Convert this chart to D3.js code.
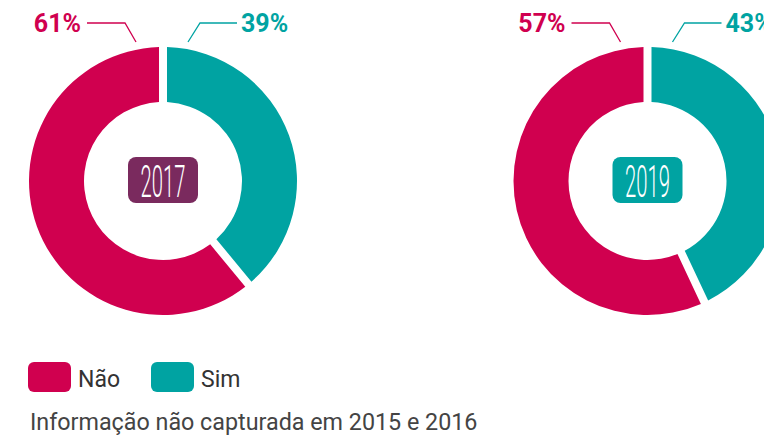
<!DOCTYPE html>
<html>
<head>
<meta charset="utf-8">
<script src="https://cdn.jsdelivr.net/npm/d3@7"></script>
<style>
  body { margin: 0; background: #fff; }
  text { font-family: Roboto, "Noto Sans", sans-serif; }
</style>
</head>
<body>
<script>
(function(){
    var width = 764,
        height = 437;

    // dados
    var categories = ["Não", "Sim"];
    var years = ["2017", "2019"];
    var values2017 = [61, 39];
    var values2019 = [57, 43];
    var colors = ["#d0004f", "#00a3a2"];
    var yearColors = ["#7a2a5e", "#00a3a2"];
    var note = "Informação não capturada em 2015 e 2016";

    var series = [values2017, values2019];
    var centersX = [163, 647.5],
        centerY = 181,
        outerR = 134,
        innerR = 79;

    var svg = d3.select("body").append("svg")
                .attr("width", width)
                .attr("height", height);

    var color = d3.scaleOrdinal().domain(categories).range(colors);

    // pie anti-horário a partir do topo: Não à esquerda, Sim à direita
    var pie = d3.pie()
                .sort(null)
                .startAngle(0)
                .endAngle(-2 * Math.PI)
                .value(function(d){ return d.v; });

    var arc = d3.arc()
                .innerRadius(innerR)
                .outerRadius(outerR)
                .padAngle(8 / outerR)
                .padRadius(outerR);

    series.forEach(function(vals, i){
        var g = svg.append("g")
                   .attr("transform", "translate(" + centersX[i] + "," + centerY + ")");

        var data = categories.map(function(c, j){ return {k: c, v: vals[j]}; });

        g.selectAll("path")
         .data(pie(data))
         .enter().append("path")
         .attr("d", arc)
         .attr("fill", function(d){ return color(d.data.k); });

        // caixa do ano
        g.append("rect")
         .attr("x", -35).attr("y", -24)
         .attr("width", 70).attr("height", 46)
         .attr("rx", 8)
         .attr("fill", yearColors[i]);

        g.append("text")
         .attr("transform", "translate(0,16) scale(0.46,1)")
         .attr("text-anchor", "middle")
         .attr("font-size", 44)
         .attr("font-weight", 300)
         .attr("fill", "#fff")
         .text(years[i]);

        // rótulos de percentual
        var cx = centersX[i];
        svg.append("path")
           .attr("d", "M" + (cx - 76) + ",23 L" + (cx - 38) + ",23 L" + (cx - 27) + ",42")
           .attr("fill", "none")
           .attr("stroke", colors[0])
           .attr("stroke-width", 1.3);
        svg.append("text")
           .attr("x", cx - 82).attr("y", 32)
           .attr("text-anchor", "end")
           .attr("font-size", 25)
           .attr("font-weight", 700)
           .attr("fill", colors[0])
           .text(vals[0] + "%");

        svg.append("path")
           .attr("d", "M" + (cx + 25) + ",42 L" + (cx + 37) + ",23 L" + (cx + 74) + ",23")
           .attr("fill", "none")
           .attr("stroke", colors[1])
           .attr("stroke-width", 1.3);
        svg.append("text")
           .attr("x", cx + 78).attr("y", 32)
           .attr("font-size", 25)
           .attr("font-weight", 700)
           .attr("fill", colors[1])
           .text(vals[1] + "%");
    });

    // legenda
    var legendX = [28, 151];
    var legend = svg.selectAll(".legend")
                    .data(categories)
                    .enter().append("g")
                    .attr("transform", function(d, i){ return "translate(" + legendX[i] + ",362)"; });
    legend.append("rect")
          .attr("width", 43).attr("height", 30)
          .attr("rx", 6)
          .attr("fill", function(d){ return color(d); });
    legend.append("text")
          .attr("x", 50).attr("y", 25)
          .attr("font-size", 23)
          .attr("fill", "#333")
          .text(function(d){ return d; });

    svg.append("text")
       .attr("x", 30).attr("y", 430)
       .attr("font-size", 23.3)
       .attr("fill", "#444")
       .text(note);
})();
</script>
</body>
</html>
